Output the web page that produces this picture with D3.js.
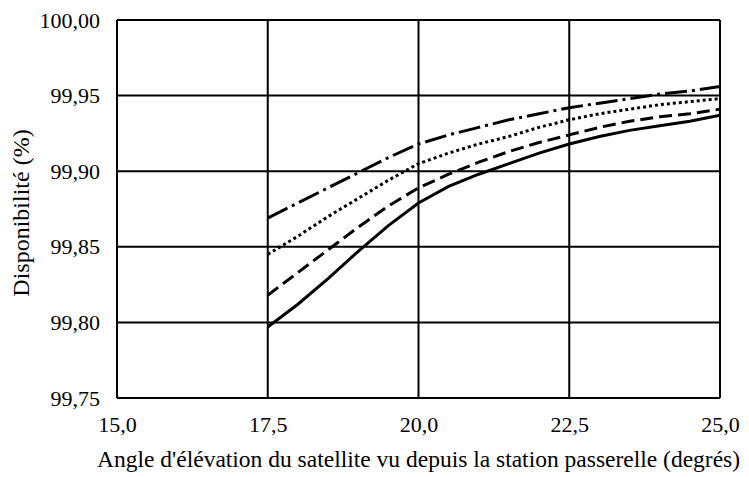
<!DOCTYPE html>
<html>
<head>
<meta charset="utf-8">
<script src="https://cdn.jsdelivr.net/npm/d3@7"></script>
<style>
  body { margin: 0; background: #fff; }
</style>
</head>
<body>
<svg id="chart" width="749" height="477"></svg>
<script>
const angles = [17.5, 18, 18.5, 19, 19.5, 20, 20.5, 21, 21.5, 22, 22.5, 23, 23.5, 24, 24.5, 25];
const solidSeries   = [99.797, 99.812, 99.829, 99.847, 99.864, 99.879, 99.890, 99.898, 99.905, 99.912, 99.918, 99.923, 99.927, 99.930, 99.933, 99.937];
const dashedSeries  = [99.818, 99.833, 99.848, 99.863, 99.877, 99.889, 99.898, 99.906, 99.913, 99.919, 99.924, 99.929, 99.933, 99.936, 99.938, 99.941];
const dottedSeries  = [99.845, 99.857, 99.870, 99.882, 99.894, 99.905, 99.912, 99.918, 99.923, 99.929, 99.934, 99.938, 99.941, 99.944, 99.946, 99.948];
const dashDotSeries = [99.869, 99.879, 99.889, 99.899, 99.909, 99.918, 99.924, 99.929, 99.934, 99.938, 99.942, 99.945, 99.948, 99.951, 99.953, 99.956];
const xTicks = [15, 17.5, 20, 22.5, 25];
const yTicks = [99.75, 99.80, 99.85, 99.90, 99.95, 100.00];

const serif = '"Liberation Serif", "Times New Roman", serif';
const svg = d3.select('#chart');
const margin = { top: 20, right: 29, bottom: 79, left: 117 };
const width = 749, height = 477;
const innerWidth = width - margin.left - margin.right;
const innerHeight = height - margin.top - margin.bottom;

const xScale = d3.scaleLinear().domain([15, 25]).range([0, innerWidth]);
const yScale = d3.scaleLinear().domain([99.75, 100]).range([innerHeight, 0]);

const g = svg.append('g')
    .attr('transform', 'translate(' + margin.left + ',' + margin.top + ')');

// grid
g.selectAll('.vgrid').data(xTicks).enter().append('line')
    .attr('x1', d => xScale(d)).attr('x2', d => xScale(d))
    .attr('y1', 0).attr('y2', innerHeight)
    .attr('stroke', '#000').attr('stroke-width', 2);
g.selectAll('.hgrid').data(yTicks).enter().append('line')
    .attr('y1', d => yScale(d)).attr('y2', d => yScale(d))
    .attr('x1', 0).attr('x2', innerWidth)
    .attr('stroke', '#000').attr('stroke-width', 2);

const fmt = (d, n) => d.toFixed(n).replace('.', ',');

// axes labels
const xAxis = d3.axisBottom(xScale).tickValues(xTicks).tickSize(0).tickPadding(18)
    .tickFormat(d => fmt(d, 1));
g.append('g').attr('transform', 'translate(0,' + innerHeight + ')').call(xAxis)
    .call(a => a.select('.domain').remove())
    .selectAll('text').style('font-family', serif).style('font-size', '22px').attr('fill', '#000');

const yAxis = d3.axisLeft(yScale).tickValues(yTicks).tickSize(0).tickPadding(17)
    .tickFormat(d => fmt(d, 2));
g.append('g').call(yAxis)
    .call(a => a.select('.domain').remove())
    .selectAll('text').style('font-family', serif).style('font-size', '22px').attr('fill', '#000');

// series
const series = [
  { values: solidSeries, dash: null },
  { values: dashedSeries, dash: '13,6' },
  { values: dottedSeries, dash: '3,3' },
  { values: dashDotSeries, dash: '22,5,3,5' }
];
const line = d3.line().x((d, i) => xScale(angles[i])).y(d => yScale(d));
series.forEach(s => {
  g.append('path')
    .datum(s.values)
    .attr('d', line)
    .attr('fill', 'none')
    .attr('stroke', '#000')
    .attr('stroke-width', 3)
    .attr('stroke-dasharray', s.dash);
});

g.append('text')
    .attr('text-anchor', 'middle')
    .attr('x', innerWidth / 2)
    .attr('y', innerHeight + 69)
    .style('font-family', serif).style('font-size', '23.5px')
    .text("Angle d'élévation du satellite vu depuis la station passerelle (degrés)");

g.append('text')
    .attr('text-anchor', 'middle')
    .attr('transform', 'translate(' + (-88) + ',' + (213 - margin.top) + ') rotate(-90)')
    .style('font-family', serif).style('font-size', '24px')
    .text('Disponibilité (%)');
</script>
</body>
</html>
